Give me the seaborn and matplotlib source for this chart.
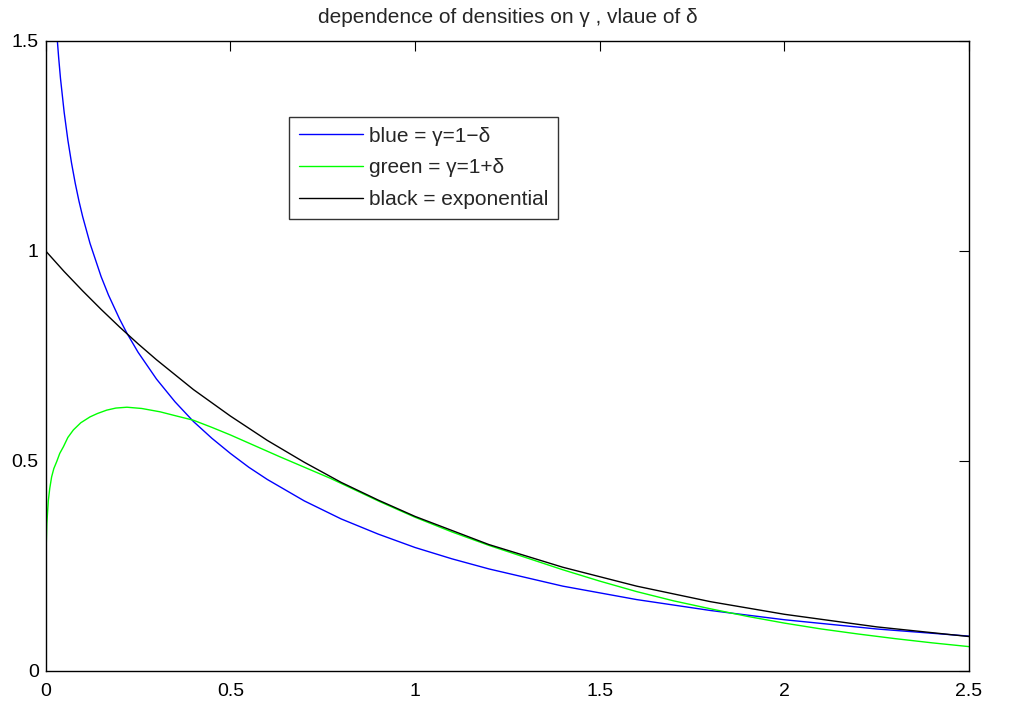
import matplotlib.pyplot as plt
import pandas as pd
import seaborn as sns

# values
blue_x = [0.03, 0.035, 0.04, 0.05, 0.06, 0.07, 0.08, 0.09, 0.10, 0.12, 0.15, 0.17, 0.20,
          0.22, 0.25, 0.30, 0.35, 0.40, 0.45, 0.50, 0.55, 0.60, 0.70, 0.80, 0.90, 1.00,
          1.10, 1.20, 1.40, 1.60, 1.80, 2.00, 2.25, 2.50]
blue_y = [1.518, 1.461, 1.411, 1.330, 1.264, 1.209, 1.161, 1.119, 1.082, 1.018, 0.939, 0.895,
          0.838, 0.804, 0.759, 0.695, 0.641, 0.594, 0.554, 0.518, 0.485, 0.456, 0.405, 0.362,
          0.326, 0.294, 0.267, 0.243, 0.202, 0.170, 0.144, 0.122, 0.100, 0.083]

green_x = [0.0, 0.003, 0.007, 0.011, 0.016, 0.022, 0.030, 0.038, 0.048, 0.060, 0.075, 0.095,
           0.12, 0.14, 0.165, 0.19, 0.22, 0.26, 0.31, 0.35, 0.40, 0.45, 0.50, 0.634, 0.77,
           0.905, 1.0, 1.1, 1.2, 1.3, 1.4, 1.5, 1.6, 1.7, 1.8, 1.9, 2.0, 2.1, 2.2, 2.3,
           2.4, 2.5]
green_y = [0.252, 0.350, 0.405, 0.435, 0.462, 0.482, 0.499, 0.518, 0.534, 0.556, 0.574, 0.591,
           0.605, 0.613, 0.621, 0.626, 0.628, 0.625, 0.617, 0.608, 0.597, 0.580, 0.562, 0.510,
           0.459, 0.403, 0.366, 0.331, 0.299, 0.270, 0.241, 0.214, 0.189, 0.167, 0.148, 0.130,
           0.114, 0.100, 0.088, 0.077, 0.067, 0.058]

black_x = [0.0, 0.05, 0.1, 0.15, 0.2, 0.25, 0.3, 0.4, 0.5, 0.6, 0.7, 0.8, 0.9, 1.0, 1.2,
           1.4, 1.6, 1.8, 2.0, 2.25, 2.5]
black_y = [1.000, 0.951, 0.905, 0.861, 0.819, 0.779, 0.741, 0.670, 0.607, 0.549, 0.497,
           0.449, 0.407, 0.368, 0.301, 0.247, 0.202, 0.165, 0.135, 0.105, 0.082]

labels = ["blue = \u03b3=1\u2212\u03b4", "green = \u03b3=1+\u03b4", "black = exponential"]
x_ticks = [0, 0.5, 1, 1.5, 2, 2.5]
x_ticklabels = ["0", "0.5", "1", "1.5", "2", "2.5"]
y_ticks = [0, 0.5, 1, 1.5]
y_ticklabels = ["0", "0.5", "1", "1.5"]

sns.set_theme(style="white")
plt.rcParams["font.family"] = ["Liberation Sans", "DejaVu Sans"]

fig = plt.figure(figsize=(10.09, 7.04), dpi=100)
ax = fig.add_axes([0.0453, 0.0469, 0.9151, 0.8949])

curves = [
    (blue_x, blue_y, "#0000ff", labels[0]),
    (green_x, green_y, "#00ff00", labels[1]),
    (black_x, black_y, "#000000", labels[2]),
]
for xs, ys, col, lab in curves:
    df = pd.DataFrame({"x": xs, "y": ys})
    sns.lineplot(data=df, x="x", y="y", color=col, linewidth=1.0, label=lab, ax=ax)

ax.set_xlim(0, 2.5)
ax.set_ylim(0, 1.5)
ax.set_xticks(x_ticks)
ax.set_xticklabels(x_ticklabels)
ax.set_yticks(y_ticks)
ax.set_yticklabels(y_ticklabels)
ax.set_xlabel("")
ax.set_ylabel("")
ax.tick_params(axis="both", direction="in", length=7, width=0.8, color="black",
               top=True, right=True, labelsize=14, labelcolor="black")
ax.tick_params(axis="x", pad=9)
ax.tick_params(axis="y", pad=5)
for sp in ax.spines.values():
    sp.set_visible(True)
    sp.set_color("black")
    sp.set_linewidth(1.0)

ax.set_title("dependence of densities on \u03b3 , vlaue of \u03b4", fontsize=15, pad=13)

leg = ax.legend(loc="upper left", bbox_to_anchor=(0.2638, 0.879), borderaxespad=0,
                fontsize=15, frameon=True, fancybox=False, handlelength=3.1,
                handletextpad=0.3, labelspacing=0.62, borderpad=0.45)
leg.get_frame().set_edgecolor("black")
leg.get_frame().set_linewidth(1.0)

fig.savefig("out.png", dpi=100)
